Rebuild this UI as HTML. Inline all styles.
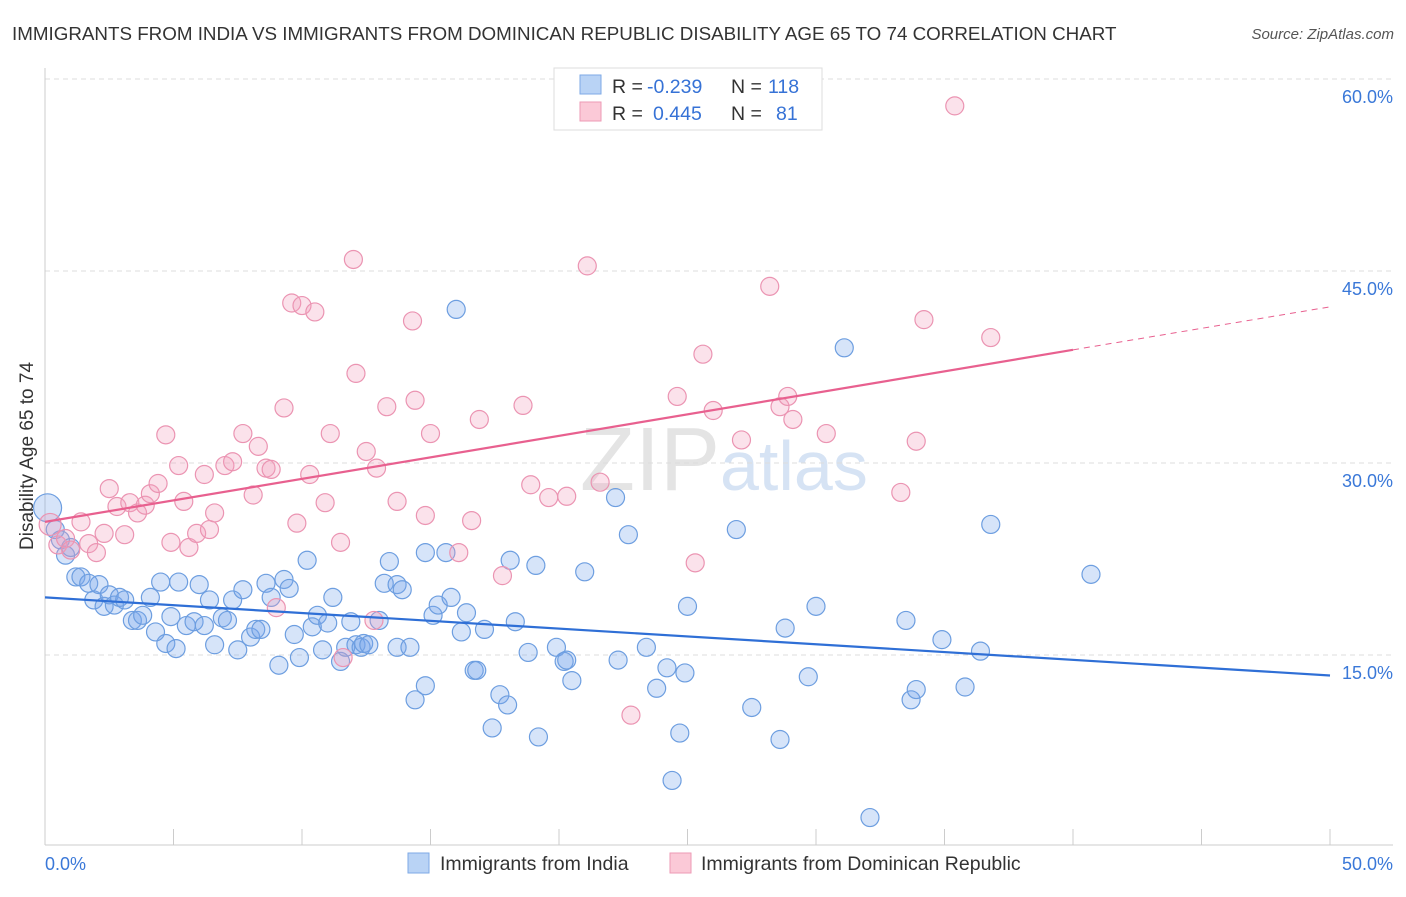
<!DOCTYPE html>
<html><head><meta charset="utf-8"><style>
body{margin:0;background:#fff;font-family:"Liberation Sans",sans-serif;}
svg text{font-family:"Liberation Sans",sans-serif;}
</style></head><body>
<svg id="chart" width="1406" height="892">
<text x="12" y="40" font-size="18.8" fill="#333">IMMIGRANTS FROM INDIA VS IMMIGRANTS FROM DOMINICAN REPUBLIC DISABILITY AGE 65 TO 74 CORRELATION CHART</text>
<text x="1394" y="39" font-size="15" fill="#555" font-style="italic" text-anchor="end">Source: ZipAtlas.com</text>
<text x="720" y="490" font-size="90" fill="#e4e4e4" text-anchor="end" font-family="Liberation Serif">ZIP</text>
<text x="720" y="490" font-size="70" fill="#d6e3f4">atlas</text>
<text transform="translate(33,456) rotate(-90)" font-size="19" fill="#333" text-anchor="middle">Disability Age 65 to 74</text>
<g id="grid"></g><g id="ticks"></g><g id="marks"></g><g id="lines"></g>
<g>
<rect x="554" y="68" width="268" height="62" fill="#fff" stroke="#ddd"/>
<rect x="580" y="75" width="21" height="19" fill="#b9d3f5" stroke="#7eaae6"/>
<rect x="580" y="102" width="21" height="19" fill="#fbc9d7" stroke="#ee9ab5"/>
<text x="612" y="93" font-size="19.5" fill="#333">R =</text>
<text x="647" y="93" font-size="19.5" fill="#3672d6">-0.239</text>
<text x="731" y="93" font-size="19.5" fill="#333">N =</text>
<text x="768" y="93" font-size="19.5" fill="#3672d6">118</text>
<text x="612" y="120" font-size="19.5" fill="#333">R =</text>
<text x="653" y="120" font-size="19.5" fill="#3672d6">0.445</text>
<text x="731" y="120" font-size="19.5" fill="#333">N =</text>
<text x="776" y="120" font-size="19.5" fill="#3672d6">81</text>
</g>
<g>
<rect x="408" y="853" width="21" height="20" fill="#b9d3f5" stroke="#7eaae6"/>
<text x="440" y="870" font-size="19.5" fill="#333">Immigrants from India</text>
<rect x="670" y="853" width="21" height="20" fill="#fbc9d7" stroke="#ee9ab5"/>
<text x="701" y="870" font-size="19.5" fill="#333">Immigrants from Dominican Republic</text>
</g>
</svg>
<script>
const yTicks=[15,30,45,60];
const yTickLabels=["15.0%","30.0%","45.0%","60.0%"];
const xTicks=[0,5,10,15,20,25,30,35,40,45,50];
const indiaX=[0.1,0.4,0.6,0.8,1.0,1.2,1.4,1.7,1.9,2.1,2.3,2.5,2.7,2.9,3.1,3.4,3.6,3.8,4.1,4.3,4.5,4.7,4.9,5.1,5.2,5.5,5.8,6.0,6.2,6.4,6.6,6.9,7.1,7.3,7.5,7.7,8.0,8.2,8.4,8.6,8.8,9.1,9.3,9.5,9.7,9.9,10.2,10.4,10.6,10.8,11.0,11.2,11.5,11.7,11.9,12.1,12.3,12.4,12.6,13.0,13.2,13.4,13.7,13.9,13.7,14.2,14.4,14.8,14.8,15.1,15.3,15.6,15.8,16.0,16.2,16.4,16.7,16.8,17.1,17.4,17.7,18.0,18.1,18.3,18.8,19.1,19.2,19.9,20.2,20.3,20.5,21.0,22.2,22.3,22.7,23.4,23.8,24.2,24.4,24.7,24.9,25.0,26.9,27.5,28.6,28.8,29.7,30.0,31.1,32.1,33.5,33.7,33.9,34.9,35.8,36.4,36.8,40.7];
const indiaY=[26.5,24.8,24.0,22.8,23.4,21.1,21.1,20.6,19.3,20.5,18.8,19.7,18.9,19.5,19.3,17.7,17.7,18.1,19.5,16.8,20.7,15.9,18.0,15.5,20.7,17.3,17.6,20.5,17.3,19.3,15.8,17.9,17.7,19.3,15.4,20.1,16.4,17.0,17.0,20.6,19.5,14.2,20.9,20.2,16.6,14.8,22.4,17.2,18.1,15.4,17.5,19.5,14.5,15.6,17.6,15.8,15.6,15.9,15.8,17.7,20.6,22.3,20.5,20.1,15.6,15.6,11.5,12.6,23.0,18.1,18.9,23.0,19.5,42.0,16.8,18.3,13.8,13.8,17.0,9.3,11.9,11.1,22.4,17.6,15.2,22.0,8.6,15.6,14.5,14.6,13.0,21.5,27.3,14.6,24.4,15.6,12.4,14.0,5.2,8.9,13.6,18.8,24.8,10.9,8.4,17.1,13.3,18.8,39.0,2.3,17.7,11.5,12.3,16.2,12.5,15.3,25.2,21.3];
const domX=[0.2,0.5,0.8,1.0,1.4,1.7,2.0,2.3,2.5,2.8,3.1,3.3,3.6,3.9,4.1,4.4,4.7,4.9,5.2,5.4,5.6,5.9,6.2,6.4,6.6,7.0,7.3,7.7,8.1,8.3,8.6,8.8,9.0,9.3,9.6,9.8,10.0,10.3,10.5,10.9,11.1,11.5,11.6,12.0,12.1,12.5,12.8,12.9,13.3,13.7,14.3,14.4,14.8,15.0,16.1,16.6,16.9,17.8,18.6,18.9,19.6,20.3,21.1,21.6,22.8,24.6,25.3,25.6,26.0,27.1,28.2,28.6,28.9,29.1,30.4,33.3,33.9,34.2,35.4,36.8];
const domY=[25.2,23.6,24.1,23.2,25.4,23.7,23.0,24.5,28.0,26.6,24.4,26.9,26.1,26.7,27.6,28.4,32.2,23.8,29.8,27.0,23.4,24.5,29.1,24.8,26.1,29.8,30.1,32.3,27.5,31.3,29.6,29.5,18.7,34.3,42.5,25.3,42.3,29.1,41.8,26.9,32.3,23.8,14.8,45.9,37.0,30.9,17.7,29.6,34.4,27.0,41.1,34.9,25.9,32.3,23.0,25.5,33.4,21.2,34.5,28.3,27.3,27.4,45.4,28.5,10.3,35.2,22.2,38.5,34.1,31.8,43.8,34.4,35.2,33.4,32.3,27.7,31.7,41.2,57.9,39.8];
const indiaTrend=[19.5,13.4];
const domTrend=[25.4,42.2];
const domSolidEnd=40;

const NS="http://www.w3.org/2000/svg";
const X0=45,X1=1330,Y0=847,PY=12.8;
function sx(v){return X0+(v/50)*(X1-X0);}
function sy(v){return Y0-v*PY;}
function mk(tag,attrs,parent){const e=document.createElementNS(NS,tag);for(const k in attrs)e.setAttribute(k,attrs[k]);parent.appendChild(e);return e;}
const grid=document.getElementById('grid'),ticks=document.getElementById('ticks'),marks=document.getElementById('marks'),lines=document.getElementById('lines');
let ax=mk('line',{x1:45,y1:68,x2:45,y2:845,stroke:'#ccc'},ticks);


let bx=mk('line',{x1:45,y1:845,x2:1393,y2:845,stroke:'#ccc'},ticks);


yTicks.forEach((t,i)=>{
 const g=mk('line',{x1:45,x2:1393,y1:sy(t),y2:sy(t),stroke:'#ddd','stroke-dasharray':'5,4'},grid);
 
 
 const l=mk('text',{x:1393,y:sy(t)+24,'font-size':18,fill:'#3a78d8','text-anchor':'end'},grid);
 l.textContent=yTickLabels[i];
 
 
});
xTicks.forEach(t=>{
 const g=mk('line',{x1:sx(t),x2:sx(t),y1:829,y2:845,stroke:'#ccc'},ticks);
 
 
});
let xl=mk('text',{x:45,y:870,'font-size':18,fill:'#3a78d8'},ticks);xl.textContent='0.0%';


let xr=mk('text',{x:1393,y:870,'font-size':18,fill:'#3a78d8','text-anchor':'end'},ticks);xr.textContent='50.0%';


indiaX.forEach((x,i)=>{
 const c=mk('circle',{cx:sx(x),cy:sy(indiaY[i]),r:i===0?14:9,fill:'rgba(120,165,235,0.3)',stroke:'#6d9ee0','stroke-width':1.2},marks);
 
 
});
domX.forEach((x,i)=>{
 const c=mk('circle',{cx:sx(x),cy:sy(domY[i]),r:i===0?11:9,fill:'rgba(243,160,190,0.3)',stroke:'#eb94b2','stroke-width':1.2},marks);
 
 
});
let bt=mk('line',{x1:sx(0),y1:sy(indiaTrend[0]),x2:sx(50),y2:sy(indiaTrend[1]),stroke:'#2f6fd6','stroke-width':2.2},lines);


const dm=v=>domTrend[0]+(domTrend[1]-domTrend[0])*v/50;
let pt=mk('line',{x1:sx(0),y1:sy(dm(0)),x2:sx(domSolidEnd),y2:sy(dm(domSolidEnd)),stroke:'#e8608f','stroke-width':2.2},lines);


let pd=mk('line',{x1:sx(domSolidEnd),y1:sy(dm(domSolidEnd)),x2:sx(50),y2:sy(dm(50)),stroke:'#e8608f','stroke-width':1,'stroke-dasharray':'6,5'},lines);


</script>
</body></html>
